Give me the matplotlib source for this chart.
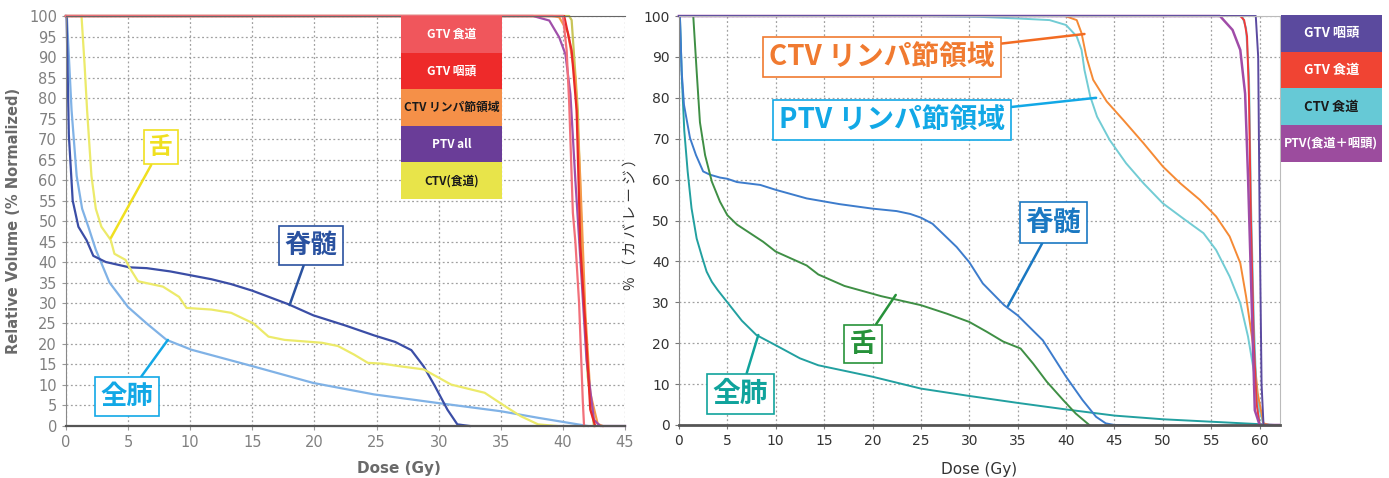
import matplotlib
matplotlib.use('Agg')
import matplotlib.pyplot as plt
from matplotlib import font_manager
from matplotlib.patches import Rectangle

JP = ['Noto Sans CJK JP', 'DejaVu Sans']
_names = {f.name for f in font_manager.fontManager.ttflist}
NARROW = ['Liberation Sans Narrow', 'DejaVu Sans'] if 'Liberation Sans Narrow' in _names else ['DejaVu Sans']

# ---- left chart (Relative Volume vs Dose, 0-45 Gy) ----
l_lung_d = [0, 0.07, 0.45, 0.86, 1.3, 1.8, 2.4, 3.5, 5, 6.5, 8.1, 10.1, 15, 19.9, 24.8, 29.7, 35, 38, 41.2, 42.0]
l_lung_v = [100, 100, 77, 61, 53, 48.6, 43, 35, 29, 25, 21, 18.6, 14.6, 10.5, 7.7, 5.7, 3.6, 2.0, 0.4, 0]

l_cord_d = [0, 0.05, 0.23, 0.54, 1.0, 1.66, 2.2, 3.2, 5.1, 6.5, 8.4, 11.7, 13.3, 15, 17.9, 19.9, 22.5, 24.8,
            26.5, 27.8, 28.8, 29.7, 30.7, 31.5, 32.5]
l_cord_v = [100, 100, 71, 55, 48.6, 45.3, 41.5, 40, 38.7, 38.5, 37.7, 35.8, 34.6, 33, 29.7, 27, 24.5, 22.1,
            20.5, 18.5, 14.5, 9.7, 4, 0.4, 0]

l_tongue_d = [1.25, 1.5, 1.7, 2.05, 2.4, 2.85, 3.6, 3.9, 4.8, 5.1, 5.8, 7.8, 9.1, 9.7, 11.7, 13.3, 15.1, 16.3,
              17.6, 20.6, 21.9, 23.2, 24.3, 25.5, 26.8, 28.8, 31, 33.7, 35.3, 36.6, 38, 39.5]
l_tongue_v = [100, 88, 77, 61, 53, 48.6, 45.4, 42, 40.5, 38.7, 35.3, 34, 31.5, 28.8, 28.4, 27.6, 25, 21.8,
              21, 20.3, 19.5, 17.4, 15.4, 15.2, 14.6, 13.8, 10.1, 8.1, 4.9, 2.4, 0.4, 0]

l_ptv_d = [0, 37.6, 38.9, 39.7, 40.2, 40.6, 41.0, 41.5, 41.9, 42.5, 43.0, 45]
l_ptv_v = [100, 100, 98.9, 94.8, 90.7, 81, 60, 36, 16, 1.5, 0, 0]
l_gtv_eso_d = [0, 40.0, 40.3, 40.5, 40.6, 40.8, 41.0, 41.3, 41.4, 41.5, 41.6, 41.7]
l_gtv_eso_v = [100, 100, 91.6, 79, 70, 52, 45, 30, 22, 14, 6, 0]
l_gtv_phx_d = [0, 40.1, 40.7, 41.1, 41.4, 41.9, 42.2, 42.6]
l_gtv_phx_v = [100, 100, 91.6, 77, 44, 20, 4, 0]
l_ctv_ln_d = [0, 39.2, 39.7, 40.4, 41.0, 41.4, 41.8, 42.2, 42.8, 43.2]
l_ctv_ln_v = [100, 100, 99.7, 96, 85, 60, 28, 8, 0.5, 0]
l_ctv_eso_d = [0, 40.5, 40.7, 41.2, 41.6, 42.0, 42.5]
l_ctv_eso_v = [100, 100, 99, 77, 37, 12, 0]

l_legend = ['GTV 食道', 'GTV 咽頭', 'CTV リンパ節領域', 'PTV all', 'CTV(食道)']
l_legend_fc = ['#f0565c', '#ee2a2a', '#f59048', '#6a3d98', '#e8e44a']
l_legend_tc = ['white', 'white', '#1a1a1a', 'white', '#1a1a1a']

# ---- right chart (% coverage vs Dose, 0-62 Gy) ----
r_lung_d = [0, 0.1, 0.3, 0.55, 0.9, 1.3, 1.83, 2.4, 2.86, 3.4, 4.0, 5, 6.5, 8, 10, 12.5, 14.4, 20, 25, 30,
            35, 40, 45, 50, 55, 60, 61.5]
r_lung_v = [100, 100, 85, 72, 62, 53, 45.6, 41, 37.5, 35, 33, 30, 25.5, 22, 19.5, 16.3, 14.6, 11.8, 8.9,
            7.1, 5.4, 3.8, 2.3, 1.4, 0.8, 0.2, 0]

r_cord_d = [0, 0.1, 0.28, 0.52, 1.14, 1.76, 2.5, 3.2, 4.24, 5, 6, 8.4, 10, 13.2, 16.6, 20, 22.5, 23.9, 25,
            26.2, 27.3, 28.7, 30, 31.4, 33.6, 35, 37.6, 40, 41.7, 43.1, 44.1, 45, 46.5]
r_cord_v = [100, 100, 86.5, 78.3, 70.2, 66, 62, 61.2, 60.5, 60.2, 59.4, 58.7, 57.5, 55.4, 54, 52.9, 52.3,
            51.6, 50.7, 49.2, 46.7, 43.5, 39.8, 34.6, 29.3, 26.8, 20.7, 11.8, 6.1, 2, 0.4, 0, 0]

r_tongue_d = [1.48, 1.83, 2.17, 2.7, 3.4, 4.24, 5, 6, 8.7, 10, 13.2, 14.4, 17.1, 20.9, 25, 27.7, 30, 31.8,
              33.5, 35.3, 36.6, 38.0, 39.7, 41.0, 42.4]
r_tongue_v = [100, 86.5, 74, 66, 59.5, 54.6, 51.3, 49, 44.8, 42.4, 39, 36.8, 34, 31.5, 29.3, 27.2, 25.2,
              22.8, 20.4, 18.7, 15, 10.6, 6.1, 2.8, 0]

r_ctv_ln_d = [0, 39.9, 41.1, 41.6, 42.1, 42.8, 44.2, 45.9, 48.0, 50.0, 51.8, 53.8, 55.5, 56.9, 58.0, 58.6,
              59.3, 59.8, 60.4, 61]
r_ctv_ln_v = [100, 100, 99, 95.8, 90, 84.4, 79.1, 74.6, 68.9, 63.2, 59.1, 55.1, 51, 46.1, 39.6, 31.4, 20,
              7.7, 0.4, 0]

r_ptv_ln_d = [0, 25, 31, 35, 38.3, 40.0, 41.1, 41.6, 41.9, 42.5, 43.2, 44.5, 46.2, 48, 50, 52.1, 54.2,
              55.5, 56.9, 58, 58.8, 59.5, 60, 60.4]
r_ptv_ln_v = [100, 100, 99.8, 99.4, 99, 97.8, 95, 91.7, 86.8, 80.3, 75.4, 69.7, 64, 59.1, 54.2, 50.5, 46.9,
              42.8, 36.3, 29.8, 21.6, 11.8, 3.7, 0]

r_gtv_phx_d = [0, 59.6, 59.85, 60.0, 60.2, 60.4]
r_gtv_phx_v = [100, 100, 90, 50, 10, 0]
r_gtv_eso_d = [0, 58.0, 58.4, 58.7, 58.9, 59.1, 59.4, 59.7, 60.0]
r_gtv_eso_v = [100, 100, 99, 95, 80, 50, 20, 5, 0]
r_ctv_eso_d = [0, 58.2, 58.6, 58.9, 59.1, 59.4, 59.7, 60.0]
r_ctv_eso_v = [100, 100, 97, 85, 55, 25, 6, 0]
r_ptv_d = [0, 55.9, 57.2, 58.0, 58.5, 58.8, 59.2, 59.5, 60.0, 62]
r_ptv_v = [100, 100, 96.6, 91.7, 81, 60.7, 28, 3.6, 0, 0]

r_legend = ['GTV 咽頭', 'GTV 食道', 'CTV 食道', 'PTV(食道＋咽頭)']
r_legend_fc = ['#5b4a9e', '#f04433', '#66c9d6', '#9c4c9e']
r_legend_tc = ['white', 'white', '#1a1a1a', 'white']

fig = plt.figure(figsize=(13.89, 4.78), dpi=100)
axL = fig.add_axes([0.0475, 0.1088, 0.4025, 0.8577])
axR = fig.add_axes([0.4888, 0.1109, 0.4327, 0.8556])

grid_kw = dict(color='#a0a0a0', linestyle=(0, (1.5, 2)), linewidth=0.9)

# left
axL.plot(l_lung_d, l_lung_v, color='#80b2e6', lw=1.6, clip_on=False)
axL.plot(l_cord_d, l_cord_v, color='#3b4ea6', lw=1.6, clip_on=False)
axL.plot(l_tongue_d, l_tongue_v, color='#ecea6a', lw=1.6, clip_on=False)
axL.plot(l_ctv_eso_d, l_ctv_eso_v, color='#c8c458', lw=1.6, clip_on=False)
axL.plot(l_ctv_ln_d, l_ctv_ln_v, color='#f59a4a', lw=1.6, clip_on=False)
axL.plot(l_ptv_d, l_ptv_v, color='#a050aa', lw=1.6, clip_on=False)
axL.plot(l_gtv_phx_d, l_gtv_phx_v, color='#e82828', lw=1.6, clip_on=False)
axL.plot(l_gtv_eso_d, l_gtv_eso_v, color='#f2707a', lw=1.6, clip_on=False)
axL.set_xlim(0, 45)
axL.set_ylim(0, 100)
axL.set_xticks(range(0, 46, 5))
axL.set_yticks(range(0, 101, 5))
axL.grid(True, **grid_kw)
axL.tick_params(colors='#999999', labelcolor='#808080', labelsize=10.5, length=3)
axL.spines['right'].set_visible(False)
axL.spines['top'].set_color('#666666')
axL.spines['left'].set_color('#888888')
axL.spines['bottom'].set_color('#555555')
axL.spines['bottom'].set_linewidth(1.6)
axL.set_xlabel('Dose (Gy)', fontsize=11, fontweight='bold', color='#6a6a6a')
axL.xaxis.set_label_coords(0.596, -0.085)
axL.set_ylabel('Relative Volume (% Normalized)', fontsize=10.5, fontweight='bold', color='#6a6a6a', labelpad=6)

h = 0.0893
for i, (name, fc, tc) in enumerate(zip(l_legend, l_legend_fc, l_legend_tc)):
    y0 = 1 - (i + 1) * h
    axL.add_patch(Rectangle((0.599, y0), 0.181, h, transform=axL.transAxes, fc=fc, ec='none', zorder=5))
    axL.text(0.6895, y0 + h / 2, name, transform=axL.transAxes, ha='center', va='center', color=tc,
             fontsize=8.5, fontweight='bold', family=JP, zorder=6)

def callout(ax, text, center, tip, color, size, lcolor=None):
    ax.annotate(text, xy=tip, xytext=center, ha='center', va='center', color=color, fontsize=size,
                fontweight='bold', family=JP, zorder=8,
                bbox=dict(boxstyle='square,pad=0.22', fc='white', ec=color, lw=1.2),
                arrowprops=dict(arrowstyle='-', color=lcolor or color, lw=1.8, shrinkA=0, shrinkB=0))

callout(axL, '舌', (7.65, 68), (3.62, 45.9), '#f0e020', 17)
callout(axL, '脊髄', (19.7, 44.0), (18.0, 29.5), '#2a52a0', 19)
callout(axL, '全肺', (4.9, 7.2), (8.2, 21), '#12a8e6', 19)

# right
axR.plot(r_lung_d, r_lung_v, color='#22a0a0', lw=1.4, clip_on=False)
axR.plot(r_cord_d, r_cord_v, color='#3d7ccc', lw=1.4, clip_on=False)
axR.plot(r_tongue_d, r_tongue_v, color='#3f8f45', lw=1.4, clip_on=False)
axR.plot(r_ptv_ln_d, r_ptv_ln_v, color='#72ccd4', lw=1.4, clip_on=False)
axR.plot(r_ctv_ln_d, r_ctv_ln_v, color='#f58a35', lw=1.4, clip_on=False)
axR.plot(r_ctv_eso_d, r_ctv_eso_v, color='#5fc8d2', lw=1.4, clip_on=False)
axR.plot(r_gtv_eso_d, r_gtv_eso_v, color='#f03a3a', lw=1.4, clip_on=False)
axR.plot(r_ptv_d, r_ptv_v, color='#a04ca8', lw=1.8, clip_on=False)
axR.plot(r_gtv_phx_d, r_gtv_phx_v, color='#5b4aa0', lw=1.4, clip_on=False)
axR.set_xlim(0, 62.1)
axR.set_ylim(0, 100)
axR.set_xticks(range(0, 61, 5))
axR.set_yticks(range(0, 101, 10))
axR.grid(True, **grid_kw)
axR.tick_params(colors='#777777', labelcolor='#333333', labelsize=10, length=3)
for lab in axR.get_xticklabels() + axR.get_yticklabels():
    lab.set_family(NARROW)
axR.spines['right'].set_color('#bbbbbb')
axR.spines['top'].set_color('#bbbbbb')
axR.spines['left'].set_color('#888888')
axR.spines['bottom'].set_color('#555555')
axR.spines['bottom'].set_linewidth(2)
axR.set_xlabel('Dose (Gy)', fontsize=11, color='#333333', family=NARROW, labelpad=10)
axR.set_ylabel('% （ カ バ レ ー ジ ）', fontsize=10.5, color='#333333', family=JP, labelpad=4)

callout(axR, 'CTV リンパ節領域', (21.0, 89.9), (41.9, 95.6), '#f07a30', 20, '#f26b22')
callout(axR, 'PTV リンパ節領域', (22.0, 74.6), (43.1, 80.0), '#12a8e6', 20)
callout(axR, '脊髄', (38.7, 49.5), (34.0, 29.1), '#1a78c2', 20)
callout(axR, '舌', (19.0, 19.8), (22.4, 31.8), '#27923a', 19)
callout(axR, '全肺', (6.35, 7.6), (8.2, 22.0), '#10a39c', 20)

rh = 0.0768
for i, (name, fc, tc) in enumerate(zip(r_legend, r_legend_fc, r_legend_tc)):
    y0 = 0.9686 - (i + 1) * rh
    fig.add_artist(Rectangle((0.9222, y0), 0.0727, rh, transform=fig.transFigure, fc=fc, ec='none'))
    fig.text(0.9585, y0 + rh / 2, name, ha='center', va='center', color=tc,
             fontsize=9.5 if i < 3 else 8.8, fontweight='bold', family=JP)

fig.savefig('out.png', dpi=100)
